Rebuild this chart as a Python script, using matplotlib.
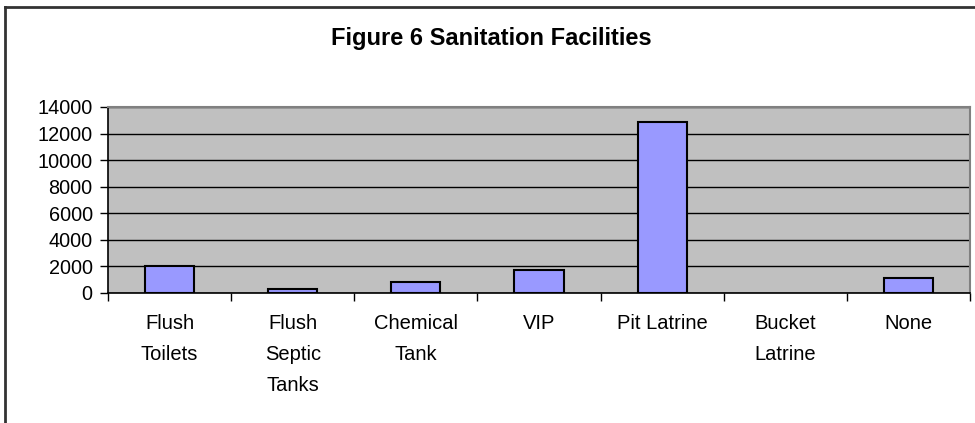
import matplotlib
matplotlib.use("Agg")
import matplotlib.pyplot as plt
from matplotlib.lines import Line2D
import numpy as np

categories = ["Flush\nToilets", "Flush\nSeptic\nTanks", "Chemical\nTank", "VIP",
              "Pit Latrine", "Bucket\nLatrine", "None"]
values = [2050, 280, 850, 1730, 12900, 0, 1150]
yticks = [0, 2000, 4000, 6000, 8000, 10000, 12000, 14000]
title = "Figure 6 Sanitation Facilities"

plt.rcParams['font.family'] = ['Liberation Sans', 'DejaVu Sans']

fig = plt.figure(figsize=(9.75, 4.23), dpi=100)
W, H = 975, 423
ax = fig.add_axes([108 / W, 1 - 293 / H, (970 - 108) / W, (293 - 107) / H])
ax.set_facecolor('#C0C0C0')

x = np.arange(len(categories))
edge_w = [1.5 if v > 0 else 0 for v in values]
ax.bar(x, values, width=0.4, color='#9999FF', edgecolor='black', linewidth=edge_w, zorder=3)

ax.set_xlim(-0.5, len(categories) - 0.5)
ax.set_ylim(0, 14000)
ax.set_yticks(yticks)
ax.set_yticklabels([str(v) for v in yticks], fontsize=14.3)
ax.yaxis.grid(True, color='black', linewidth=1.0, zorder=1)
ax.set_axisbelow(True)

# major ticks at category boundaries (tick marks only), minor at centers (labels)
ax.set_xticks(np.arange(-0.5, len(categories), 1.0))
ax.set_xticklabels([])
ax.set_xticks(x, minor=True)
ax.set_xticklabels(categories, minor=True, fontsize=14.5, linespacing=1.8,
                   ha='center', va='top')
ax.tick_params(axis='x', which='major', length=6, width=1, color='black', direction='out')
ax.tick_params(axis='x', which='minor', length=0, pad=15)
ax.tick_params(axis='y', length=6, width=1, color='black', direction='out', pad=5)

ax.spines['left'].set_color('black')
ax.spines['bottom'].set_color('black')
ax.spines['left'].set_linewidth(1.2)
ax.spines['bottom'].set_linewidth(1.2)
ax.spines['top'].set_color('#808080')
ax.spines['right'].set_color('#808080')
ax.spines['top'].set_linewidth(1.5)
ax.spines['right'].set_linewidth(1.5)

fig.text(491 / W, 1 - 38 / H, title, ha='center', va='center',
         fontsize=17, fontweight='bold')

# chart area border (left and top visible)
fig.add_artist(Line2D([5 / W, 5 / W], [0, 1 - 7 / H], transform=fig.transFigure,
                      color='#333333', linewidth=2))
fig.add_artist(Line2D([5 / W, 1.0], [1 - 7 / H, 1 - 7 / H], transform=fig.transFigure,
                      color='#333333', linewidth=2))

fig.savefig("out.png", dpi=100)
